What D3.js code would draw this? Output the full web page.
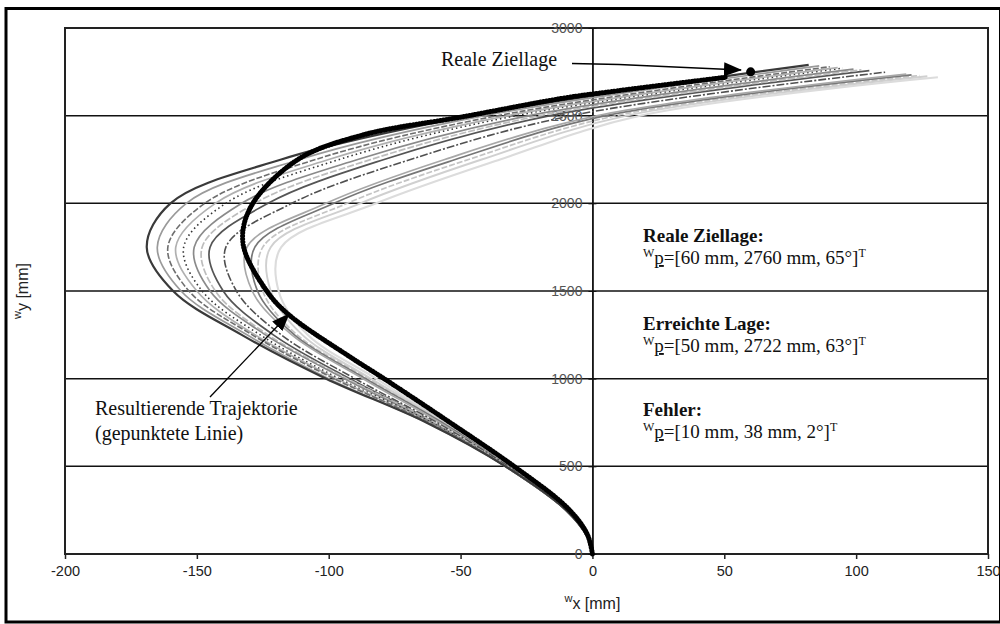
<!DOCTYPE html>
<html>
<head>
<meta charset="utf-8">
<script src="https://cdn.jsdelivr.net/npm/d3@7"></script>
<style>
  body { margin: 0; background: #fff; }
  svg { display: block; }
  .tick text, .axt { font-family: "Liberation Sans", Arial, sans-serif; fill: #222; }
  .ser { font-family: "Liberation Serif", "Times New Roman", serif; fill: #111; }
</style>
</head>
<body>
<svg id="chart" width="1000" height="624"></svg>
<script>
// y levels (mm) at which the x values of the simulated runs were read
const yLevels = [0, 100, 250, 500, 750, 1000, 1250, 1500, 1750, 2000, 2250, 2500];

// simulated trajectories, outermost (largest bulge) first: x [mm] at yLevels
const grayRuns = [
  [0, -2, -10, -33, -63, -101, -133, -159, -169, -160, -118, -46],
  [0, -2, -10, -33, -63, -100, -131, -156, -165, -154, -111, -41],
  [0, -2, -10, -33, -62, -98, -129, -153, -161, -147, -105, -36],
  [0, -2, -10, -33, -62, -97, -128, -150, -158, -143, -100, -32],
  [0, -2, -10, -33, -61, -96, -126, -148, -155, -139, -96, -29],
  [0, -2, -10, -33, -61, -94, -124, -145, -151, -133, -89, -24],
  [0, -2, -10, -33, -60, -93, -123, -143, -148, -128, -84, -20],
  [0, -2, -10, -33, -60, -92, -121, -140, -145, -123, -79, -16],
  [0, -2, -10, -32, -59, -90, -118, -135, -139, -114, -69, -8],
  [0, -2, -10, -32, -58, -87, -114, -129, -131, -101, -56, 2],
  [0, -2, -10, -32, -57, -86, -113, -127, -128, -98, -52, 5],
  [0, -2, -10, -32, -57, -85, -112, -125, -125, -93, -47, 9],
  [0, -2, -10, -31, -56, -84, -110, -122, -122, -88, -42, 13],
  [0, -2, -10, -31, -56, -82, -108, -119, -118, -82, -35, 18]
];
const grayEndX = [82, 86, 90, 93, 95, 99, 102, 105, 111, 119, 121, 124, 127, 131];
const grayEndY = [2790, 2784, 2779, 2774, 2771, 2765, 2761, 2757, 2748, 2737, 2733, 2729, 2725, 2719];

// resulting trajectory (dotted black line)
const resultX = [0, -2, -9.5, -30, -54, -79, -92, -115, -123.5, -132.5, -129.5, -112, -87, -49, -11, 7, 51];
const resultY = [0, 114, 263, 503, 750, 1000, 1125, 1363, 1500, 1771, 1981, 2247, 2390, 2494, 2600, 2637, 2720];

const realTarget = [60, 2750];

const xTicks = [-200, -150, -100, -50, 0, 50, 100, 150];
const yTicks = [0, 500, 1000, 1500, 2000, 2500, 3000];

// line styles of the simulated runs
const grayColors = ['#3a3a3a', '#9a9a9a', '#6e6e6e', '#b0b0b0', '#333', '#8a8a8a', '#bdbdbd',
                    '#555', '#505050', '#a8a8a8', '#777', '#c4c4c4', '#d0d0d0', '#dcdcdc'];
const grayDash = [null, null, '6,2', null, '1.5,3', null, '7,2', null, '8,2,2,2', null, null, '6,2', null, null];
const grayWidth = [2.2, 1.7, 1.6, 1.7, 1.6, 1.7, 1.7, 1.7, 1.6, 1.7, 1.7, 1.7, 1.9, 2.1];

const svg = d3.select('#chart');
const x = d3.scaleLinear().domain([-200, 150]).range([65, 988]);
const y = d3.scaleLinear().domain([0, 3000]).range([554, 28]);

// outer border of the figure (right edge sits on the image edge)
svg.append('path')
  .attr('d', 'M999,8.5 L6,8.5 L6,622 L999,622')
  .attr('fill', 'none').attr('stroke', '#000').attr('stroke-width', 3);
svg.append('line')
  .attr('x1', 999.5).attr('x2', 999.5).attr('y1', 7).attr('y2', 623.5)
  .attr('stroke', '#000').attr('stroke-width', 1);

// horizontal grid
svg.append('g')
  .selectAll('line')
  .data(yTicks.filter(d => d > 0 && d < 3000))
  .join('line')
  .attr('x1', x(-200)).attr('x2', x(150))
  .attr('y1', d => y(d)).attr('y2', d => y(d))
  .attr('stroke', '#111').attr('stroke-width', 1.5);

// plot frame
svg.append('rect')
  .attr('x', x(-200)).attr('y', y(3000))
  .attr('width', x(150) - x(-200)).attr('height', y(0) - y(3000))
  .attr('fill', 'none').attr('stroke', '#222').attr('stroke-width', 2);

// x axis
const gx = svg.append('g')
  .attr('transform', `translate(0,${y(0)})`)
  .call(d3.axisBottom(x).tickValues(xTicks).tickFormat(d => String(d))
    .tickSize(5).tickPadding(7).tickSizeOuter(0));
gx.select('.domain').remove();
gx.selectAll('line').attr('stroke', '#222').attr('stroke-width', 1.5);
gx.selectAll('text').attr('font-size', 14.5);

// y axis on x = 0
const gy = svg.append('g')
  .attr('transform', `translate(${x(0)},0)`)
  .call(d3.axisLeft(y).tickValues(yTicks).tickFormat(d => String(d))
    .tickSize(4).tickPadding(6).tickSizeOuter(0));
gy.select('.domain').attr('stroke', '#111').attr('stroke-width', 1.8);
gy.selectAll('.tick line').attr('x2', 4).attr('x1', -4).attr('stroke', '#111');
gy.selectAll('text').attr('font-size', 14).style('fill', '#555');

// axis titles
svg.append('text').attr('class', 'axt')
  .attr('x', x(0)).attr('y', 609).attr('text-anchor', 'middle').attr('font-size', 16)
  .call(t => {
    t.append('tspan').attr('font-size', 11).attr('dy', -7).text('w');
    t.append('tspan').attr('dy', 7).text('x [mm]');
  });
svg.append('text').attr('class', 'axt')
  .attr('transform', 'translate(28,291) rotate(-90)')
  .attr('text-anchor', 'middle').attr('font-size', 16)
  .call(t => {
    t.append('tspan').attr('font-size', 11).attr('dy', -7).text('w');
    t.append('tspan').attr('dy', 7).text('y [mm]');
  });

// trajectories
const line = d3.line()
  .x(d => x(d[0])).y(d => y(d[1]))
  .curve(d3.curveCatmullRom.alpha(0.5));

const runs = grayRuns.map((xs, i) => ({
  i,
  pts: yLevels.map((yv, j) => [xs[j], yv]).concat([[grayEndX[i], grayEndY[i]]])
}));

svg.append('g')
  .selectAll('path')
  .data(runs.slice().reverse())
  .join('path')
  .attr('d', d => line(d.pts))
  .attr('fill', 'none')
  .attr('stroke', d => grayColors[d.i])
  .attr('stroke-width', d => grayWidth[d.i])
  .attr('stroke-dasharray', d => grayDash[d.i]);

const resultPts = resultX.map((v, i) => [v, resultY[i]]);
svg.append('path')
  .attr('d', line(resultPts))
  .attr('fill', 'none').attr('stroke', '#000')
  .attr('stroke-width', 5).attr('stroke-linecap', 'round')
  .attr('stroke-dasharray', '0.8,2.2');

svg.append('circle')
  .attr('cx', x(realTarget[0])).attr('cy', y(realTarget[1])).attr('r', 4.5)
  .attr('fill', '#000');

// arrow heads
svg.append('defs').append('marker')
  .attr('id', 'head').attr('markerUnits', 'userSpaceOnUse')
  .attr('markerWidth', 18).attr('markerHeight', 14)
  .attr('refX', 17).attr('refY', 7).attr('orient', 'auto')
  .append('path').attr('d', 'M0,0 L18,7 L0,14 Z').attr('fill', '#000');

svg.append('path')
  .attr('d', 'M572,63.5 L619,64.5 L741,70')
  .attr('fill', 'none').attr('stroke', '#000').attr('stroke-width', 1.3)
  .attr('marker-end', 'url(#head)');

svg.append('path')
  .attr('d', 'M210,397 L289,314')
  .attr('fill', 'none').attr('stroke', '#000').attr('stroke-width', 1.3)
  .attr('marker-end', 'url(#head)');

// annotations
svg.append('text').attr('class', 'ser')
  .attr('x', 441).attr('y', 66).attr('font-size', 20).text('Reale Ziellage');

svg.append('text').attr('class', 'ser')
  .attr('x', 95).attr('y', 415).attr('font-size', 20).text('Resultierende Trajektorie');
svg.append('text').attr('class', 'ser')
  .attr('x', 95).attr('y', 440).attr('font-size', 20).text('(gepunktete Linie)');

const notes = [
  {title: 'Reale Ziellage:', vec: '=[60 mm, 2760 mm, 65°]', y: 242},
  {title: 'Erreichte Lage:', vec: '=[50 mm, 2722 mm, 63°]', y: 330},
  {title: 'Fehler:', vec: '=[10 mm, 38 mm, 2°]', y: 416}
];
notes.forEach(n => {
  svg.append('text').attr('class', 'ser')
    .attr('x', 643).attr('y', n.y).attr('font-size', 19).attr('font-weight', 'bold')
    .text(n.title);
  svg.append('text').attr('class', 'ser')
    .attr('x', 643).attr('y', n.y + 22).attr('font-size', 19)
    .call(t => {
      t.append('tspan').attr('font-size', 12).attr('dy', -7).text('W');
      t.append('tspan').attr('dy', 7).attr('text-decoration', 'underline').text('p');
      t.append('tspan').text(n.vec);
      t.append('tspan').attr('font-size', 12).attr('dy', -7).text('T');
    });
});
</script>
</body>
</html>
